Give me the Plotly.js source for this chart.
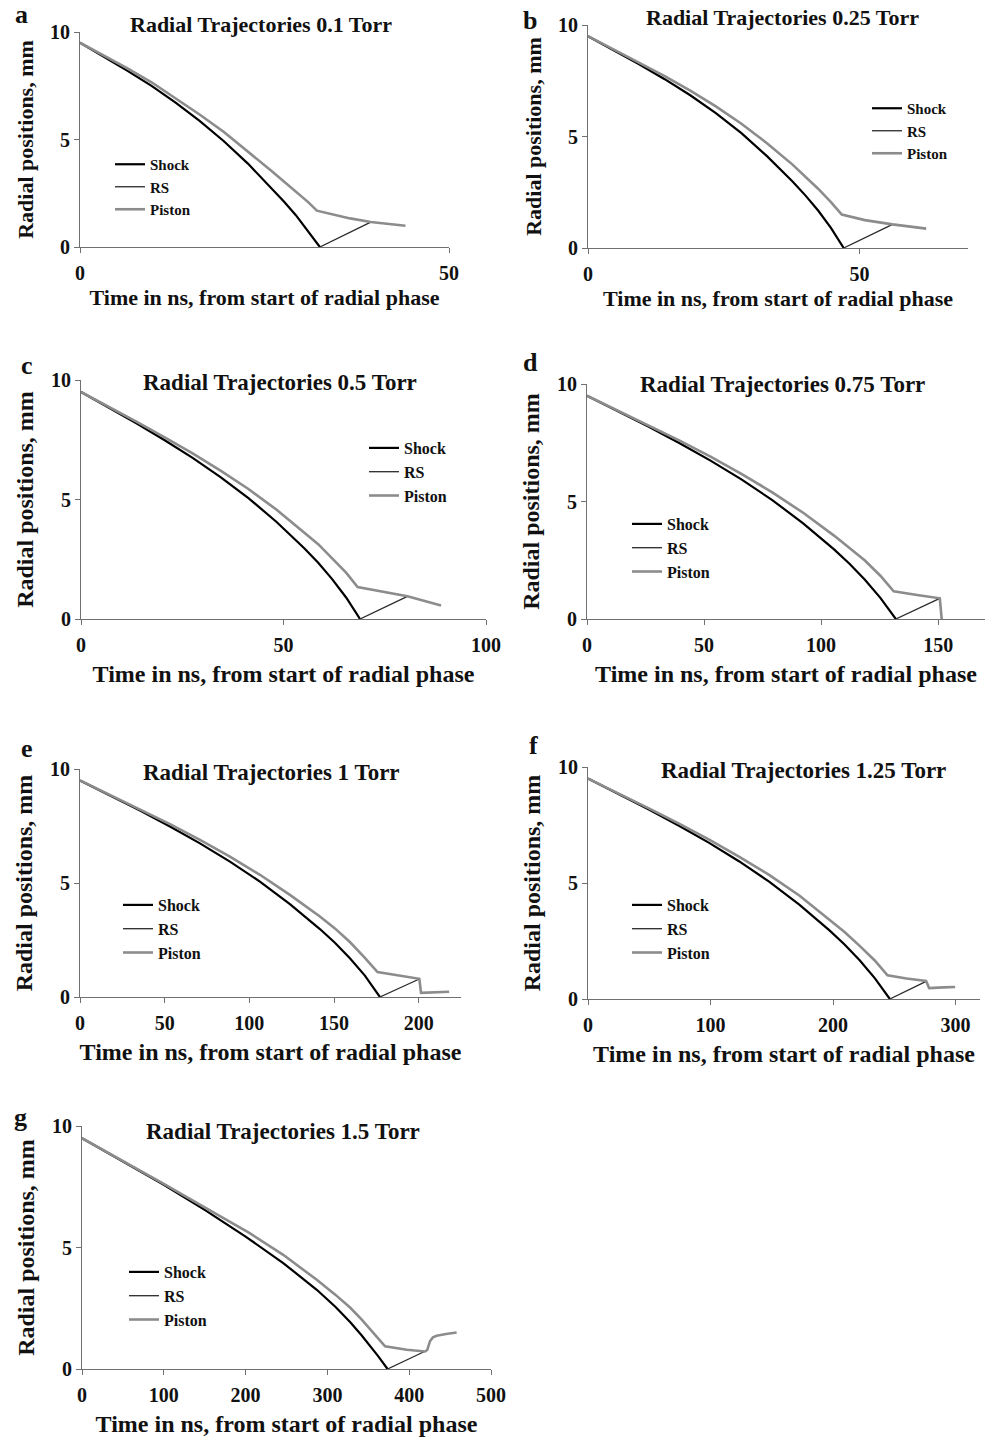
<!DOCTYPE html>
<html><head><meta charset="utf-8">
<script src="https://cdn.plot.ly/plotly-3.0.1.min.js"></script>
<style>html,body{margin:0;padding:0;background:#fff}</style>
</head><body><div id="chart" style="width:987px;height:1441px"></div>
<script>
// ---------- data ----------
const panelLetters = ['a','b','c','d','e','f','g'];
const pressures = ['0.1','0.25','0.5','0.75','1','1.25','1.5'];
const seriesNames = ['Shock','RS','Piston'];
const xTitle = 'Time in ns, from start of radial phase';
const yTitle = 'Radial positions, mm';

// a: 0.1 Torr
const shockT_a = [0, 3.25, 6.5, 9.75, 13, 16.25, 19.5, 22.75, 26, 27.63, 29.25, 30.88, 32.5];
const shockR_a = [9.5, 8.85, 8.18, 7.48, 6.7, 5.85, 4.92, 3.88, 2.72, 2.12, 1.48, 0.76, 0];
const rsT_a = [32.5, 39.4];
const rsR_a = [0, 1.16];
const pistonT_a = [0, 3.25, 6.5, 9.75, 13, 16.25, 19.5, 22.75, 26, 27.63, 29.25, 30.88, 32.1, 36.6, 39.4, 44.1];
const pistonR_a = [9.5, 8.9, 8.3, 7.65, 6.92, 6.15, 5.35, 4.45, 3.52, 3.05, 2.58, 2.1, 1.69, 1.33, 1.16, 0.99];

// b: 0.25 Torr
const shockT_b = [0, 4.71, 9.42, 14.13, 18.84, 23.55, 28.26, 32.97, 37.68, 40.04, 42.39, 44.75, 47.1];
const shockR_b = [9.5, 8.88, 8.24, 7.57, 6.85, 6.05, 5.15, 4.12, 2.98, 2.36, 1.68, 0.9, 0];
const rsT_b = [47.1, 56.1];
const rsR_b = [0, 1.06];
const pistonT_b = [0, 4.71, 9.42, 14.13, 18.84, 23.55, 28.26, 32.97, 37.68, 40.04, 42.39, 44.75, 46.75, 51, 56.1, 62.3];
const pistonR_b = [9.5, 8.91, 8.32, 7.71, 7.06, 6.35, 5.57, 4.7, 3.74, 3.21, 2.66, 2.06, 1.5, 1.25, 1.06, 0.87];

// c: 0.5 Torr
const shockT_c = [0, 6.89, 13.78, 20.67, 27.56, 34.45, 41.34, 48.23, 55.12, 58.57, 62.01, 65.46, 68.9];
const shockR_c = [9.5, 8.85, 8.18, 7.48, 6.74, 5.94, 5.06, 4.07, 2.96, 2.35, 1.67, 0.9, 0];
const rsT_c = [68.9, 80.6];
const rsR_c = [0, 0.95];
const pistonT_c = [0, 6.89, 13.78, 20.67, 27.56, 34.45, 41.34, 48.23, 55.12, 58.57, 62.01, 65.46, 68.3, 74, 80.6, 88.9];
const pistonR_c = [9.5, 8.88, 8.25, 7.6, 6.93, 6.21, 5.44, 4.58, 3.63, 3.13, 2.54, 1.94, 1.34, 1.15, 0.95, 0.56];

// d: 0.75 Torr
const shockT_d = [0, 13.19, 26.38, 39.57, 52.76, 65.95, 79.14, 92.33, 105.52, 112.12, 118.71, 125.31, 131.9];
const shockR_d = [9.5, 8.85, 8.18, 7.48, 6.74, 5.94, 5.06, 4.07, 2.96, 2.35, 1.67, 0.9, 0];
const rsT_d = [131.9, 150.7];
const rsR_d = [0, 0.88];
const pistonT_d = [0, 13.19, 26.38, 39.57, 52.76, 65.95, 79.14, 92.33, 105.52, 112.12, 118.71, 125.31, 131, 141, 150.7, 151.5];
const pistonR_d = [9.5, 8.87, 8.24, 7.59, 6.91, 6.18, 5.39, 4.52, 3.55, 3.03, 2.49, 1.84, 1.18, 1.02, 0.88, 0];

// e: 1 Torr
const shockT_e = [0, 17.71, 35.42, 53.13, 70.84, 88.55, 106.26, 123.97, 141.68, 150.54, 159.39, 168.25, 177.1];
const shockR_e = [9.5, 8.85, 8.18, 7.48, 6.74, 5.94, 5.06, 4.07, 2.98, 2.38, 1.7, 0.94, 0];
const rsT_e = [177.1, 200.4];
const rsR_e = [0, 0.79];
const pistonT_e = [0, 17.71, 35.42, 53.13, 70.84, 88.55, 106.26, 123.97, 141.68, 150.54, 159.39, 168.25, 175.7, 188, 200.4, 201.4, 210, 218];
const pistonR_e = [9.5, 8.87, 8.24, 7.58, 6.89, 6.16, 5.36, 4.48, 3.53, 3.01, 2.41, 1.72, 1.09, 0.94, 0.8, 0.18, 0.2, 0.23];

// f: 1.25 Torr
const shockT_f = [0, 24.64, 49.28, 73.92, 98.56, 123.2, 147.84, 172.48, 197.12, 209.44, 221.76, 234.08, 246.4];
const shockR_f = [9.5, 8.85, 8.18, 7.48, 6.74, 5.94, 5.06, 4.07, 2.96, 2.35, 1.67, 0.9, 0];
const rsT_f = [246.4, 276];
const rsR_f = [0, 0.76];
const pistonT_f = [0, 24.64, 49.28, 73.92, 98.56, 123.2, 147.84, 172.48, 197.12, 209.44, 221.76, 234.08, 244.5, 260, 276, 278.5, 290, 299.7];
const pistonR_f = [9.5, 8.87, 8.23, 7.57, 6.88, 6.14, 5.35, 4.46, 3.44, 2.89, 2.29, 1.66, 1.02, 0.88, 0.78, 0.47, 0.5, 0.52];

// g: 1.5 Torr
const shockT_g = [0, 50, 100, 150, 200, 246, 287, 310, 328, 342, 352, 362, 373.5];
const shockR_g = [9.5, 8.55, 7.58, 6.55, 5.45, 4.36, 3.26, 2.55, 1.92, 1.38, 0.97, 0.53, 0];
const rsT_g = [373.5, 419.4];
const rsR_g = [0, 0.73];
const pistonT_g = [0, 50, 100, 150, 205, 246, 287, 310, 328, 342, 352, 362, 370.5, 397, 419.4, 422, 425.5, 429, 433.6, 445, 458];
const pistonR_g = [9.5, 8.57, 7.62, 6.65, 5.59, 4.7, 3.67, 3.05, 2.52, 2.03, 1.66, 1.28, 0.93, 0.79, 0.72, 0.78, 1.15, 1.3, 1.37, 1.44, 1.5];

const xMax = [50, 70, 100, 170, 225, 320, 500];
const xTickStep = [50, 50, 50, 50, 50, 100, 100];
const yMax = 10;
const yTickStep = 5;

const panelData = [
  [shockT_a, shockR_a, rsT_a, rsR_a, pistonT_a, pistonR_a],
  [shockT_b, shockR_b, rsT_b, rsR_b, pistonT_b, pistonR_b],
  [shockT_c, shockR_c, rsT_c, rsR_c, pistonT_c, pistonR_c],
  [shockT_d, shockR_d, rsT_d, rsR_d, pistonT_d, pistonR_d],
  [shockT_e, shockR_e, rsT_e, rsR_e, pistonT_e, pistonR_e],
  [shockT_f, shockR_f, rsT_f, rsR_f, pistonT_f, pistonR_f],
  [shockT_g, shockR_g, rsT_g, rsR_g, pistonT_g, pistonR_g]
];

// ---------- layout geometry (pixels) ----------
const W = 987, H = 1441;
const geom = [
  {x0:80,  x1:449, yT:32,   yB:247,  title:[261,25],   letter:[21,15],   leg:[152,187],  fs:'s'},
  {x0:588, x1:968, yT:25,   yB:248,  title:[782,18],   letter:[530,20],  leg:[909,131],  fs:'s'},
  {x0:81,  x1:486, yT:380,  yB:619,  title:[280,382],  letter:[27,365],  leg:[406,472],  fs:'l'},
  {x0:587, x1:985, yT:384,  yB:619,  title:[782,384],  letter:[530,363], leg:[669,548],  fs:'l'},
  {x0:80,  x1:461, yT:769,  yB:997,  title:[271,772],  letter:[27,748],  leg:[160,929],  fs:'l'},
  {x0:588, x1:980, yT:767,  yB:999,  title:[803,770],  letter:[533,746], leg:[669,929],  fs:'l'},
  {x0:82,  x1:491, yT:1126, yB:1369, title:[283,1131], letter:[20,1117], leg:[166,1296], fs:'l'}
];
const FONT = 'Liberation Serif, Times New Roman, serif';
const styles = [
  {color:'#000000', width:2.2},
  {color:'#2a2a2a', width:1.3},
  {color:'#8c8c8c', width:2.6}
];

const traces = [];
const layout = {
  width: W, height: H,
  margin: {l:0, r:0, t:0, b:0},
  paper_bgcolor: '#ffffff', plot_bgcolor: '#ffffff',
  showlegend: true,
  annotations: []
};

geom.forEach((g, i) => {
  const sfx = i === 0 ? '' : String(i + 1);
  const legName = 'legend' + sfx;
  const d = panelData[i];
  for (let s = 0; s < 3; s++) {
    traces.push({
      type: 'scatter', mode: 'lines',
      x: d[s*2], y: d[s*2+1],
      name: seriesNames[s],
      xaxis: 'x' + sfx, yaxis: 'y' + sfx,
      legend: legName,
      line: {color: styles[s].color, width: styles[s].width},
      hoverinfo: 'skip'
    });
  }
  const big = g.fs === 'l';
  const axTitleSize = big ? 24 : 22;
  const axisCommon = {
    showline: true, linecolor: '#707070', linewidth: 1,
    ticks: 'outside', ticklen: 5, tickcolor: '#707070', tickwidth: 1,
    showgrid: false, zeroline: false, fixedrange: true,
    tickfont: {family: FONT, size: 20, color: '#111', weight: 'bold'}
  };
  layout['xaxis' + sfx] = Object.assign({}, axisCommon, {
    domain: [g.x0 / W, g.x1 / W],
    range: [0, xMax[i]], tick0: 0, dtick: xTickStep[i],
    anchor: 'y' + sfx,
    ticklabelstandoff: 3,
    title: {text: xTitle, standoff: big ? 10 : 6, font: {family: FONT, size: axTitleSize, color: '#111', weight: 'bold'}}
  });
  layout['yaxis' + sfx] = Object.assign({}, axisCommon, {
    domain: [1 - g.yB / H, 1 - g.yT / H],
    range: [0, yMax], tick0: 0, dtick: yTickStep,
    anchor: 'x' + sfx,
    title: {text: yTitle, standoff: 10, font: {family: FONT, size: axTitleSize, color: '#111', weight: 'bold'}}
  });
  layout[legName] = {
    x: (g.leg[0] - 42) / W, xanchor: 'left',
    y: 1 - g.leg[1] / H, yanchor: 'middle',
    bgcolor: 'rgba(0,0,0,0)', borderwidth: 0,
    font: {family: FONT, size: big ? 16 : 15, color: '#111', weight: 'bold'},
    itemwidth: 30
  };
  layout.annotations.push({
    xref: 'paper', yref: 'paper', x: g.title[0] / W, y: 1 - g.title[1] / H,
    xanchor: 'center', yanchor: 'middle', showarrow: false,
    text: 'Radial Trajectories ' + pressures[i] + ' Torr',
    font: {family: FONT, size: big ? 23 : 22, color: '#111', weight: 'bold'}
  });
  layout.annotations.push({
    xref: 'paper', yref: 'paper', x: g.letter[0] / W, y: 1 - g.letter[1] / H,
    xanchor: 'center', yanchor: 'middle', showarrow: false,
    text: panelLetters[i],
    font: {family: FONT, size: 26, color: '#111', weight: 'bold'}
  });
});

Plotly.newPlot('chart', traces, layout, {displayModeBar: false, responsive: false});
</script>
</body></html>
